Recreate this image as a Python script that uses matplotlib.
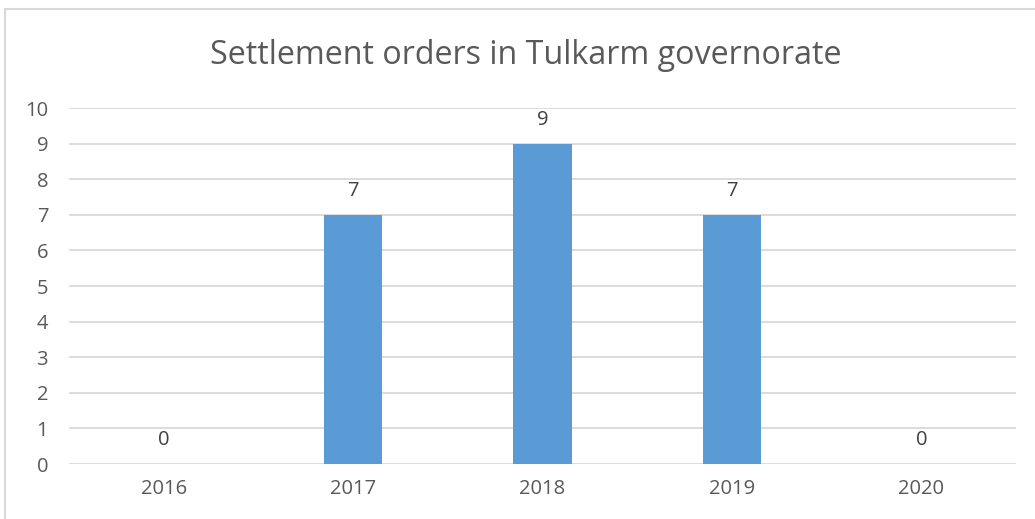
import matplotlib.pyplot as plt
from matplotlib.patches import Rectangle

years = ["2016", "2017", "2018", "2019", "2020"]
orders = [0, 7, 9, 7, 0]
yticks = list(range(0, 11))

W, H = 1035, 519
fig = plt.figure(figsize=(W/100, H/100), dpi=100)
plt.rcParams['font.family'] = ['Open Sans', 'DejaVu Sans']

# outer chart border (left and top visible)
fig.patches.append(Rectangle((5/W, -0.1), 1.2, (519-9)/H + 0.1, transform=fig.transFigure,
                             fill=False, edgecolor='#D9D9D9', linewidth=1.5))

left, right = 69/W, 1016/W
bottom, top = (H-464)/H, (H-108)/H
ax = fig.add_axes([left, bottom, right-left, top-bottom])

x = list(range(len(years)))
ax.bar(x, orders, width=0.31, color='#5B9BD5', zorder=3)
ax.set_xlim(-0.5, len(years)-0.5)
ax.set_ylim(0, 10)
ax.set_yticks(yticks)
ax.set_xticks(x)
ax.set_xticklabels(years)
ax.yaxis.grid(True, color='#D9D9D9', linewidth=1.3, zorder=0)
for s in ax.spines.values():
    s.set_visible(False)
ax.tick_params(axis='both', length=0, colors='#595959', labelsize=14.5)
ax.tick_params(axis='y', pad=15)
ax.tick_params(axis='x', pad=11)

for xi, v in zip(x, orders):
    ax.annotate(str(v), (xi, v), xytext=(0, 17), textcoords='offset points',
                ha='center', va='center', fontsize=14.5, color='#404040')

fig.text(526/W, 1 - 55/H, "Settlement orders in Tulkarm governorate", ha='center', va='center',
         fontsize=23.2, color='#595959')

fig.savefig('out.png', dpi=100)
